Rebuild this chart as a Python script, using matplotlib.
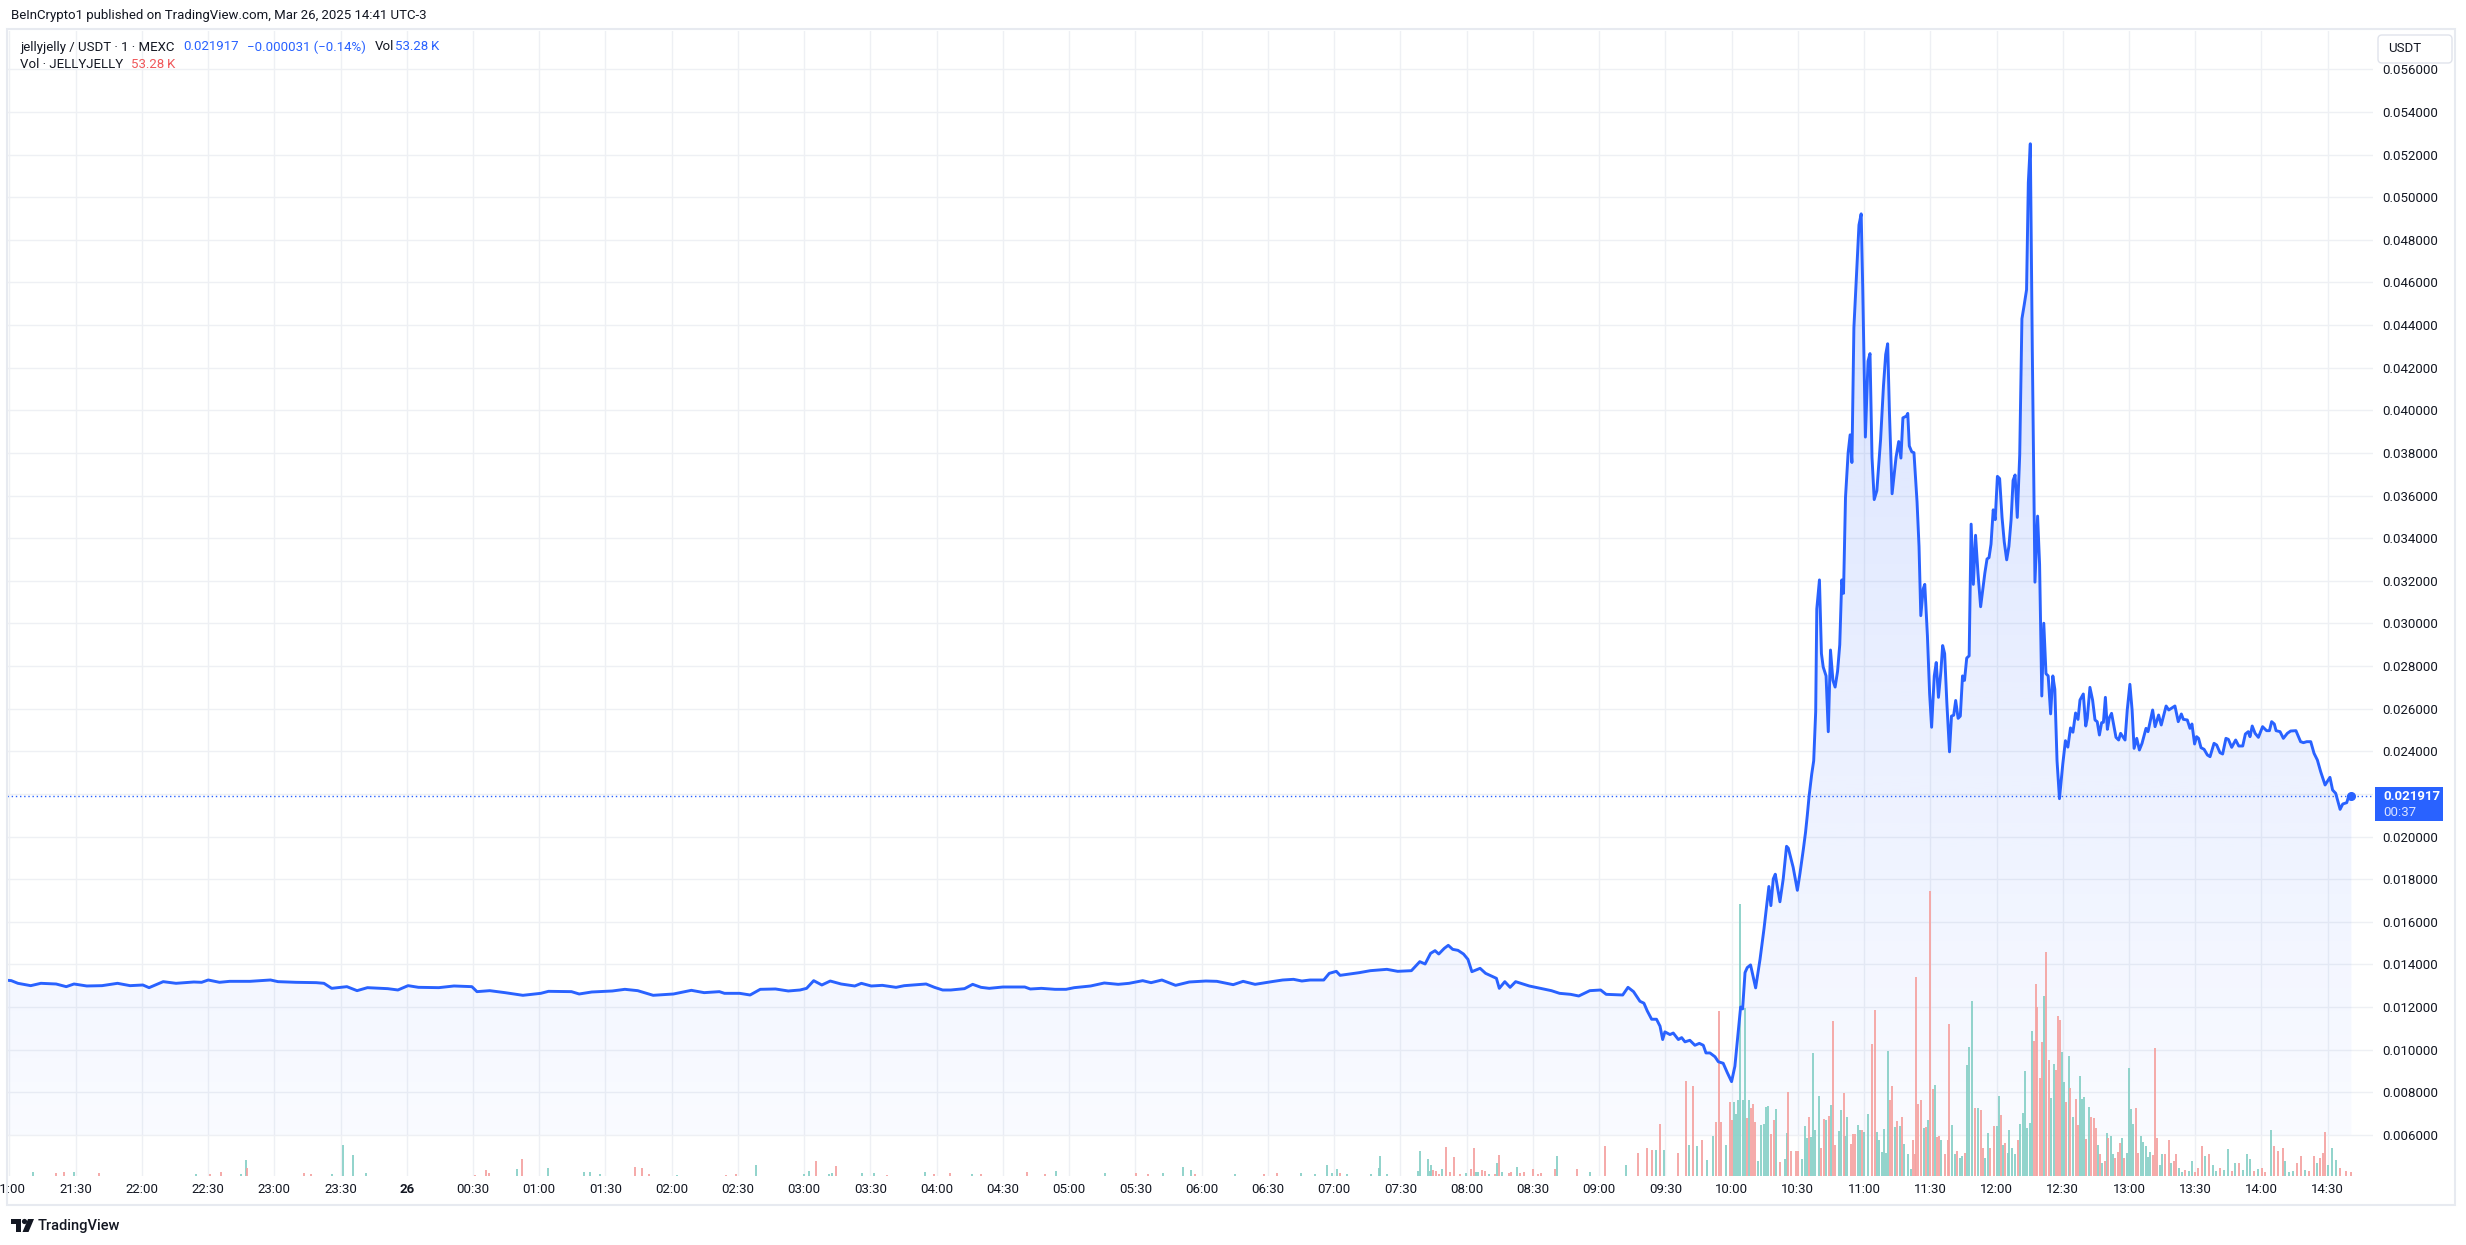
import numpy as np
import matplotlib
matplotlib.use("Agg")
import matplotlib.pyplot as plt
import matplotlib.patches as mpatches
import matplotlib.transforms as mtransforms
from matplotlib.colors import to_rgb
from matplotlib.ticker import FuncFormatter

plt.rcParams['font.family'] = ['Roboto', 'DejaVu Sans']

# jellyjelly / USDT, 1-minute chart; time = minutes after 21:00 (Mar 25, UTC-3)
PRICE_T = [
    -1.0, 0.9, 3.9, 9.7, 14.3, 21.2, 25.8, 29.3, 35.1, 42.0, 49.0, 54.7, 60.5, 63.3,
    69.7, 75.5, 83.6, 87.1, 90.1, 95.2, 99.8, 109.0, 118.3, 121.7, 129.8, 139.0,
    142.5, 146.0, 152.9, 157.5, 162.2, 171.4, 176.0, 180.6, 185.3, 194.5, 201.4,
    209.5, 211.8, 217.6, 224.5, 232.6, 240.7, 244.2, 254.6, 258.1, 263.8, 273.1,
    278.8, 284.6, 291.6, 300.8, 308.9, 314.7, 321.6, 323.9, 330.8, 335.5, 340.1,
    347.0, 352.8,
    358.1, 361.1, 364.3, 368.0, 371.8, 376.7, 382.9, 385.9, 390.4, 395.4, 401.6,
    405.3, 415.2, 419.0, 422.7, 426.4, 432.6, 436.3, 440.1, 443.8, 450.0, 459.9,
    462.4, 467.4, 473.6, 478.6, 482.3, 489.7, 495.9, 502.2, 507.1, 513.3, 517.1,
    522.0, 528.2, 534.4, 541.9, 546.9, 554.3, 558.8, 564.2, 571.7, 576.7, 581.6,
    585.4, 589.1, 595.3, 597.8, 601.0, 602.7, 611.4, 616.4, 623.9, 628.8, 635.0,
    638.8, 641.2, 643.7, 645.7, 647.4, 649.9, 651.7, 653.7, 656.1, 658.6, 660.6,
    662.4, 666.1, 668.6, 673.5, 674.8, 677.3, 679.7, 682.2, 688.4, 693.4, 698.4,
    702.1, 707.1, 710.8, 715.8, 720.7, 723.2, 730.7, 733.1, 735.6,
    738.5, 740.3, 741.8, 743.8, 746.0, 747.6, 748.8, 749.8, 752.1, 753.6, 755.9,
    757.4, 758.9, 761.1, 763.4, 765.4, 767.2, 768.4, 770.2, 772.5, 774.0, 776.2,
    778.1, 780.0, 781.5, 783.0, 784.1, 785.0, 786.1, 787.1, 788.6, 790.9, 792.9,
    794.7, 796.9, 797.8, 798.9, 799.8, 801.9, 803.4, 804.9, 805.7, 807.9, 809.8,
    811.0, 812.5, 813.5, 814.3,
    815.1, 816.3, 817.2, 818.1, 818.6, 819.8, 820.7, 821.5, 822.8, 823.8, 824.8,
    825.9, 826.9, 828.0, 829.0, 829.9, 830.7, 831.6, 832.8, 833.7, 834.5, 835.4,
    836.8, 837.7, 838.7, 839.4, 840.6, 841.8, 842.7, 843.6, 844.6, 845.8, 847.5,
    848.8, 849.8, 850.7, 851.5, 852.7, 854.5, 855.7, 856.7, 857.6, 859.2, 859.8,
    860.5, 861.6, 862.6, 864.0, 864.9, 865.7, 866.8, 867.5, 868.7, 869.7, 870.6,
    871.8, 872.7, 873.7, 874.8, 875.6, 876.5, 877.5, 878.7, 879.6, 880.6, 881.5,
    882.6, 883.6, 884.6, 885.5, 886.5, 887.6, 888.5, 889.5, 890.5, 891.6, 892.8,
    893.8, 894.7, 895.7, 896.6, 897.5, 898.5, 899.4, 900.4, 901.4, 902.5, 903.5,
    904.6, 905.6, 906.6, 907.5, 908.4, 909.4, 910.5, 911.5, 912.5, 913.6, 914.4,
    915.3, 916.2, 917.4, 918.6, 919.5, 920.5, 921.4, 922.4, 923.4, 924.5, 925.5,
    926.4, 927.4, 928.5, 930.0, 931.2, 932.3, 933.5, 934.6, 935.8, 936.9,
    937.8, 938.6, 939.3, 940.4, 941.1, 942.3, 943.5, 944.6, 945.6, 946.6, 947.6,
    948.4, 949.3, 950.2, 951.1, 952.1, 954.1, 955.3, 956.2, 958.2, 959.2, 960.4,
    961.4, 962.3, 963.5, 964.7, 965.9, 967.7, 968.6, 970.7, 971.8, 973.4, 974.6,
    976.8, 978.0, 980.8, 982.3, 983.7, 984.6, 986.4, 987.6, 988.5, 989.7, 990.6,
    991.5, 992.6, 994.0, 995.5, 996.7, 998.5, 999.7, 1001.2, 1002.4, 1003.9,
    1005.0, 1006.5, 1008.3, 1009.7, 1011.5, 1012.7, 1014.0, 1014.8, 1015.8, 1017.1,
    1018.6, 1020.5, 1022.3, 1023.6, 1024.6, 1025.8, 1026.6, 1028.4, 1029.9, 1031.7,
    1033.2, 1035.6, 1037.7, 1039.0, 1040.5, 1042.3, 1043.8, 1045.3, 1046.8, 1048.8,
    1051.0, 1052.2, 1053.6, 1055.6, 1056.8, 1058.6, 1059.5, 1060.7,
]
PRICE = [
    0.013260, 0.013242, 0.013117, 0.013007, 0.013117, 0.013085, 0.012960, 0.013085,
    0.012992, 0.013007, 0.013117, 0.013007, 0.013038, 0.012913, 0.013195, 0.013117,
    0.013179, 0.013164, 0.013273, 0.013164, 0.013210, 0.013210, 0.013273, 0.013195,
    0.013164, 0.013148, 0.013117, 0.012882, 0.012960, 0.012772, 0.012913, 0.012866,
    0.012804, 0.013007, 0.012929, 0.012913, 0.012992, 0.012960, 0.012726, 0.012772,
    0.012679, 0.012554, 0.012647, 0.012741, 0.012726, 0.012616, 0.012710, 0.012757,
    0.012835, 0.012772, 0.012554, 0.012616, 0.012788, 0.012679, 0.012726, 0.012647,
    0.012647, 0.012569, 0.012835, 0.012851, 0.012757,
    0.012803, 0.012881, 0.013241, 0.013038, 0.013225, 0.013085, 0.012991, 0.013116,
    0.012991, 0.013022, 0.012928, 0.013006, 0.013085, 0.012928, 0.012803, 0.012803,
    0.012866, 0.013069, 0.012928, 0.012881, 0.012944, 0.012944, 0.012850, 0.012881,
    0.012835, 0.012835, 0.012913, 0.012991, 0.013132, 0.013069, 0.013116, 0.013241,
    0.013147, 0.013272, 0.013022, 0.013179, 0.013225, 0.013210, 0.013053, 0.013210,
    0.013069, 0.013194, 0.013272, 0.013304, 0.013225, 0.013272, 0.013272, 0.013585,
    0.013679, 0.013491, 0.013617, 0.013710, 0.013773, 0.013679, 0.013710, 0.014133,
    0.014023, 0.014524, 0.014649, 0.014492, 0.014758, 0.014899, 0.014711, 0.014664,
    0.014492, 0.014242, 0.013663, 0.013820, 0.013585, 0.013351, 0.012881, 0.013194,
    0.012928, 0.013194, 0.012991, 0.012881, 0.012772, 0.012647, 0.012600, 0.012522,
    0.012772, 0.012803, 0.012600, 0.012569, 0.012928, 0.012726,
    0.012274, 0.012185, 0.011826, 0.011431, 0.011431, 0.011107, 0.010479, 0.010838,
    0.010712, 0.010784, 0.010479, 0.010569, 0.010371, 0.010443, 0.010210, 0.010299,
    0.010210, 0.009850, 0.009850, 0.009671, 0.009437, 0.009366, 0.008917, 0.008504,
    0.009222, 0.010838, 0.012005, 0.011915, 0.013621, 0.013854, 0.013980, 0.012903,
    0.014249, 0.015686, 0.017660, 0.016763, 0.018020, 0.018235, 0.016942, 0.018020,
    0.019546, 0.019456, 0.018558, 0.017481, 0.018289, 0.019400, 0.020200, 0.021000,
    0.021885, 0.022932, 0.023560, 0.025865, 0.030682, 0.032044, 0.028588, 0.027959,
    0.027540, 0.024922, 0.028755, 0.027331, 0.027017, 0.027750, 0.029007, 0.032044,
    0.031416, 0.035919, 0.038014, 0.038852, 0.037553, 0.043879, 0.046812, 0.048697,
    0.049221, 0.045764, 0.038747, 0.042308, 0.042664, 0.037804, 0.035814, 0.036233,
    0.038642, 0.041156, 0.042622, 0.043125, 0.039899, 0.036087, 0.037804, 0.038538,
    0.037762, 0.039648, 0.039732, 0.039857, 0.038328, 0.038056, 0.038014, 0.035710,
    0.033615, 0.030368, 0.031625, 0.031835, 0.029426, 0.026703, 0.025132, 0.027540,
    0.028169, 0.026535, 0.027750, 0.028965, 0.028588, 0.026284, 0.023979, 0.025655,
    0.025697, 0.026388, 0.025550, 0.025655, 0.027540, 0.027331, 0.028378, 0.028483,
    0.034662, 0.031835, 0.034139, 0.032358, 0.030787, 0.031625, 0.032358, 0.033028,
    0.033091, 0.033720, 0.035333, 0.034872, 0.036904, 0.036799, 0.034977, 0.033824,
    0.032987, 0.033615, 0.034872, 0.036715, 0.036967, 0.034977, 0.037909, 0.044298,
    0.044926, 0.045660, 0.050687, 0.052509, 0.042832, 0.031939, 0.035039, 0.032777,
    0.026598, 0.030012, 0.027645, 0.027540, 0.025759, 0.027540, 0.026912, 0.023560,
    0.021780, 0.023400, 0.024500, 0.024200, 0.025100, 0.024900, 0.025800, 0.025500,
    0.026410, 0.026566, 0.026692, 0.025190, 0.025550, 0.027004, 0.026410, 0.025472,
    0.025393, 0.024768, 0.025347, 0.025362, 0.026535, 0.025034, 0.025581, 0.025784,
    0.024658, 0.024533, 0.024846, 0.024533, 0.025941, 0.027145, 0.025941, 0.024142,
    0.024611, 0.024064, 0.024377, 0.025081, 0.024924, 0.025941, 0.025159, 0.025706,
    0.025237, 0.026129, 0.025941, 0.026129, 0.025394, 0.025753, 0.025503, 0.025472,
    0.025081, 0.025284, 0.024346, 0.024690, 0.024611, 0.024174, 0.024095, 0.023829,
    0.023751, 0.024377, 0.024299, 0.023939, 0.023876, 0.024611, 0.024564, 0.024189,
    0.024533, 0.024252, 0.024252, 0.024815, 0.024924, 0.024690, 0.025190, 0.024846,
    0.024658, 0.025159, 0.024971, 0.024971, 0.025394, 0.025284, 0.024971, 0.024924,
    0.024611, 0.024846, 0.024955, 0.024971, 0.024455, 0.024408, 0.024455, 0.024455,
    0.023908, 0.023595, 0.023047, 0.022422, 0.022782, 0.022187, 0.022031, 0.021280,
    0.021530, 0.021593, 0.021906, 0.021917,
]

# volume bars in thousands of JELLYJELLY, split by candle direction
VOL_UP_T = [
    10.9, 29.1, 84.7, 105.0, 107.1, 146.1, 151.0, 155.7, 161.6, 229.8, 243.8, 260.4,
    262.8, 267.7, 302.5, 338.4, 359.7, 362.3, 371.4, 372.7, 386.2, 391.4,
    414.5, 435.8, 474.2, 496.4, 522.3, 531.4, 535.4, 555.0, 585.0, 591.4, 596.9, 599.1,
    601.1, 606.0, 616.7, 620.1, 620.9, 623.8, 637.9, 638.9, 642.4, 643.2, 644.0, 649.0,
    659.8, 664.2, 665.2, 670.3, 673.9, 675.9, 683.0,
    701.0, 715.8, 732.0, 745.9, 749.6, 760.7, 764.3, 769.0, 771.7, 777.5, 781.0, 781.9,
    783.1, 784.0, 785.1, 786.1, 787.9, 791.8, 793.2, 794.8, 795.8, 796.7, 799.9, 804.1,
    805.0, 812.0, 813.1, 814.0, 816.1, 817.0, 818.0, 819.8, 822.8, 824.9, 828.6, 829.7,
    831.6, 832.5, 837.1, 838.3, 840.1, 842.0, 845.7, 846.8, 848.0, 848.9, 849.8, 851.0,
    853.8, 856.1, 858.2, 859.8, 861.2, 867.0, 868.8, 872.0, 874.8, 879.7, 881.0, 883.3,
    884.5, 886.8, 887.7, 888.7, 891.4, 894.9, 896.1, 900.0, 900.9, 902.8, 905.1, 905.8,
    907.1, 908.5, 910.6, 911.8, 912.7, 913.6, 915.0, 915.9, 921.7, 924.7, 925.9, 929.8,
    930.7, 932.6, 934.6, 937.7, 938.8, 939.7, 941.8, 946.0, 947.8, 949.9, 951.8, 952.9,
    956.6, 958.9, 959.8, 960.8, 961.9, 965.4, 966.5, 967.5, 968.6, 969.5, 973.9, 975.1,
    979.0, 982.5, 983.9, 987.1, 988.5, 994.5, 998.2, 999.3, 1002.8, 1004.7, 1007.9,
    1011.6, 1013.4, 1014.8, 1018.5, 1024.5, 1030.5, 1032.4, 1034.2, 1039.8, 1045.1,
    1050.2, 1052.0, 1053.6,
]
VOL_UP_K = [
    52, 52, 26, 30, 208, 26, 407, 277, 39, 91, 104, 52,
    52, 26, 17, 143, 26, 65, 26, 39, 39, 39,
    48, 22, 61, 35, 35, 113, 74, 22, 35, 22, 139, 39,
    87, 22, 22, 104, 256, 22, 61, 321, 221, 61, 139, 87,
    39, 48, 48, 22, 165, 48, 113,
    264, 56, 143, 338, 338, 403, 394, 208, 524, 403, 966, 810,
    988, 3545, 988, 2180, 988, 199, 663, 680, 893, 914, 875, 221,
    563, 221, 654, 498, 503, 1603, 598, 1044, 728, 923, 589, 854,
    524, 767, 667, 598, 576, 810, 568, 468, 312, 611, 295, 1629,
    641, 654, 420, 290, 91, 620, 728, 1183, 472, 667, 290, 238,
    264, 1439, 1681, 2279, 880, 238, 559, 654, 1040, 399, 295, 602,
    360, 282, 680, 815, 1369, 628, 693, 1889, 2344, 1010, 1460, 1612,
    1226, 1564, 771, 1304, 997, 1031, 893, 403, 165, 563, 520, 290,
    490, 299, 1408, 867, 676, 524, 446, 394, 247, 316, 143, 290,
    165, 100, 48, 65, 195, 264, 143, 65, 78, 351, 165,
    78, 290, 221, 91, 602, 195, 56, 65, 78, 165,
    143, 360, 208,
]
VOL_DN_T = [
    21.0, 24.9, 40.8, 90.7, 95.9, 107.8, 133.6, 136.7, 211.0, 216.0, 217.3, 232.3,
    283.3, 286.4, 289.5, 324.6, 329.3, 365.4, 374.5, 397.4,
    418.6, 426.0, 440.2, 461.0, 469.1, 510.5, 515.6, 537.2, 568.2, 574.2, 602.5, 645.0,
    646.0, 647.6, 650.7, 652.5, 654.1, 657.1, 662.2, 663.2, 667.2, 668.3, 672.7, 674.7,
    679.4, 680.0, 684.4, 686.2, 689.9, 692.5, 693.9, 700.2,
    709.8, 722.8, 737.5, 741.7, 744.0, 747.7, 755.6, 759.3, 762.7, 766.7, 773.1, 774.1,
    775.0, 779.1, 780.1, 787.0, 788.8, 789.8, 790.7, 797.9, 799.0, 802.0, 805.7, 806.9,
    809.0, 809.9, 815.2, 820.7, 821.9, 824.0, 825.8, 826.7, 830.7, 834.1, 835.1, 836.0,
    839.2, 843.8, 844.8, 851.7, 852.6, 854.9, 857.2, 862.1, 863.0, 863.7, 864.6, 865.8,
    868.1, 869.7, 871.1, 873.0, 873.9, 876.6, 877.8, 878.7, 882.2, 885.7, 890.3, 892.8,
    893.7, 897.0, 898.8, 901.8, 903.9, 909.7, 916.9, 917.8, 918.5, 919.6, 920.6, 922.4,
    923.6, 926.8, 927.7, 928.9, 931.6, 933.5, 935.8, 936.7, 940.7, 942.7, 944.1, 945.0,
    946.9, 949.0, 950.6, 953.8, 954.8, 955.9, 957.7, 963.1, 964.2, 970.7, 971.6, 972.8,
    976.5, 977.9, 980.2, 981.3, 985.5, 990.1, 991.3, 993.1, 996.3, 1001.0, 1006.5,
    1009.7, 1016.7, 1020.1, 1021.8, 1025.5, 1027.3, 1029.6, 1036.3, 1037.9, 1041.6,
    1043.7, 1046.7, 1047.9, 1048.8, 1055.5, 1058.3, 1060.5,
]
VOL_DN_K = [
    43, 52, 43, 26, 52, 104, 39, 26, 17, 78, 43, 221,
    117, 104, 26, 13, 26, 195, 130, 17,
    22, 35, 26, 48, 22, 35, 22, 22, 22, 35, 35, 74,
    61, 26, 373, 48, 243, 22, 87, 360, 74, 61, 22, 269,
    35, 48, 35, 48, 87, 26, 35, 87,
    91, 394, 303, 360, 338, 680, 303, 1239, 1174, 472, 698, 2149,
    706, 958, 732, 750, 880, 940, 698, 542, 728, 186, 1096, 329,
    329, 325, 771, 368, 745, 784, 2019, 399, 1083, 416, 550, 550,
    594, 1716, 2162, 984, 1174, 715, 763, 464, 290, 2591, 936, 988,
    637, 3709, 1131, 511, 524, 282, 464, 1976, 329, 303, 888, 854,
    368, 360, 646, 797, 433, 468, 1755, 2505, 2201, 1278, 1746, 2916,
    1508, 1382, 2084, 2028, 958, 1148, 1005, 663, 477, 763, 758, 620,
    290, 199, 490, 230, 308, 433, 230, 888, 295, 273, 1668, 498,
    282, 472, 195, 290, 78, 56, 108, 386, 290, 108, 65,
    169, 65, 108, 48, 386, 325, 368, 165, 264, 65,
    260, 230, 303, 576, 108, 65, 53,
]

TIME_TICKS = list(range(0, 1051, 30))
TIME_LABELS = [
    "21:00", "21:30", "22:00", "22:30", "23:00", "23:30", "26", "00:30", "01:00",
    "01:30", "02:00", "02:30", "03:00", "03:30", "04:00", "04:30", "05:00", "05:30",
    "06:00", "06:30", "07:00", "07:30", "08:00", "08:30", "09:00", "09:30", "10:00",
    "10:30", "11:00", "11:30", "12:00", "12:30", "13:00", "13:30", "14:00", "14:30",
]
PRICE_TICKS = [round(0.006 + 0.002 * i, 3) for i in range(26)]

# legend rows: (text, colour, gap in px after the previous piece)
LEGEND_ROW1 = [("jellyjelly / USDT · 1 · MEXC", 'text', 0), ("0.021917", 'blue', 9),
               ("\u22120.000031 (\u22120.14%)", 'blue', 8), ("Vol", 'text', 9),
               ("53.28\u2009K", 'blue', 1)]
LEGEND_ROW2 = [("Vol · JELLYJELLY", 'text', 0), ("53.28\u2009K", 'red', 8)]

# layout (pixels of the 2466x1245 output)
W, H, DPI = 2466, 1245, 100
PANE_L, PANE_R, PANE_T, PANE_B = 7, 2373, 31, 1176
X_LIM = (-1.04, 1070.5)
Y_LIM = (0.004076, 0.05780)
VOL_TOP_K = 14900          # volume value reaching the top of the pane
AREA_BASE = 0.006

BLUE = '#2962ff'
TEXT = '#131722'
RED = '#f0575a'
UP_COL = '#88d0c7'
DN_COL = '#f5a3a1'
COLORS = {'text': TEXT, 'blue': BLUE, 'red': RED}

fig = plt.figure(figsize=(W / DPI, H / DPI), dpi=DPI)
fig.patch.set_facecolor('white')
# pixel coordinates measured from the top-left corner
TOP_PX = mtransforms.Affine2D().scale(1, -1).translate(0, H)

ax = fig.add_axes([PANE_L / W, 1 - PANE_B / H,
                   (PANE_R - PANE_L) / W, (PANE_B - PANE_T) / H])
ax.set_facecolor('none')
for s in ax.spines.values():
    s.set_visible(False)

# area fill with vertical gradient, clipped to the price polygon
grad = np.zeros((256, 1, 4))
grad[..., :3] = to_rgb(BLUE)
grad[:, 0, 3] = np.linspace(0.21, 0.02, 256)
im = ax.imshow(grad, extent=[X_LIM[0], X_LIM[1], Y_LIM[0], Y_LIM[1]],
               aspect='auto', origin='upper', interpolation='bilinear', zorder=1)
area = ax.fill_between(PRICE_T, PRICE, AREA_BASE, facecolor='none', edgecolor='none')
im.set_clip_path(area.get_paths()[0], transform=ax.transData)

# volume overlay (height as a share of the pane)
xa = ax.get_xaxis_transform()
ax.vlines(VOL_UP_T, 0, np.array(VOL_UP_K) / VOL_TOP_K, transform=xa,
          colors=UP_COL, lw=1.3, zorder=2)
ax.vlines(VOL_DN_T, 0, np.array(VOL_DN_K) / VOL_TOP_K, transform=xa,
          colors=DN_COL, lw=1.3, zorder=2)

last = PRICE[-1]
ax.axhline(last, color=BLUE, lw=1.0, ls=(0, (1, 2)), zorder=3)
ax.plot(PRICE_T, PRICE, color=BLUE, lw=2.1, zorder=4, solid_joinstyle='round')
ax.plot(PRICE_T[-1], last, 'o', ms=5.5, color=BLUE, zorder=5)

ax.set_xlim(*X_LIM)
ax.set_ylim(*Y_LIM)
ax.set_axisbelow(True)
ax.grid(True, color='#eef0f4', lw=1.0)

ax.yaxis.tick_right()
ax.set_yticks(PRICE_TICKS)
ax.yaxis.set_major_formatter(FuncFormatter(lambda v, _: f"{v:.6f}"))
ax.set_xticks(TIME_TICKS)
ax.set_xticklabels(TIME_LABELS)
ax.tick_params(axis='y', length=0, pad=7, labelsize=9.5, labelcolor=TEXT)
ax.tick_params(axis='x', length=0, pad=5, labelsize=9.5, labelcolor=TEXT)
for lab in ax.get_xticklabels():
    if lab.get_text() == "26":
        lab.set_fontweight('bold')

# outer frame
fig.add_artist(mpatches.Rectangle((7, 29), 2448, 1176, transform=TOP_PX,
                                  fill=False, edgecolor='#e7eaf0', lw=1.5))

# USDT currency box on the price scale
fig.add_artist(mpatches.FancyBboxPatch((2378, 35), 74, 28, transform=TOP_PX,
                                       boxstyle='round,pad=0,rounding_size=4',
                                       facecolor='white', edgecolor='#e0e3eb',
                                       lw=1.0, zorder=5))
fig.text(2388, 49, "USDT", transform=TOP_PX, fontsize=9.5, color=TEXT,
         va='center', ha='left', zorder=6)

# last price tag, anchored at the last price
py = H - ax.transData.transform((0, last))[1]
fig.add_artist(mpatches.Rectangle((2375, py - 9), 68, 34, transform=TOP_PX,
                                  facecolor=BLUE, edgecolor='none', zorder=5))
fig.text(2383, py + 0.5, f"{last:.6f}", transform=TOP_PX, fontsize=9.5,
         color='white', fontweight='bold', va='center', ha='left', zorder=6)
fig.text(2383, py + 16.5, "00:37", transform=TOP_PX, fontsize=9.5,
         color='#dbe4ff', va='center', ha='left', zorder=6)

# header
fig.text(11, 16, "BeInCrypto1 published on TradingView.com, Mar 26, 2025 14:41 UTC-3",
         transform=TOP_PX, fontsize=9.5, color=TEXT, va='center')

renderer = fig.canvas.get_renderer()


def legend_row(pieces, x, y, size=9.5):
    """Lay text pieces side by side, each starting after the previous one ends."""
    for label, col, gap in pieces:
        x += gap
        t = fig.text(x, y, label, transform=TOP_PX, fontsize=size,
                     color=COLORS[col], va='center', ha='left')
        x = t.get_window_extent(renderer).x1


legend_row(LEGEND_ROW1, 20, 47)
legend_row(LEGEND_ROW2, 20, 65)

# TradingView logo
fig.add_artist(mpatches.Polygon([(11, 1219), (21, 1219), (21, 1232), (16, 1232),
                                 (16, 1224), (11, 1224)], closed=True,
                                transform=TOP_PX, facecolor=TEXT, edgecolor='none'))
fig.add_artist(mpatches.Circle((24.5, 1221.5), 2.6, transform=TOP_PX,
                               facecolor=TEXT, edgecolor='none'))
fig.add_artist(mpatches.Polygon([(28, 1219), (34, 1219), (28.5, 1232), (22.5, 1232)],
                                closed=True, transform=TOP_PX, facecolor=TEXT,
                                edgecolor='none'))
fig.text(38, 1226, "TradingView", transform=TOP_PX, fontsize=10.5, color=TEXT,
         va='center', fontweight='medium')

fig.savefig("out.png", dpi=DPI, facecolor='white')
